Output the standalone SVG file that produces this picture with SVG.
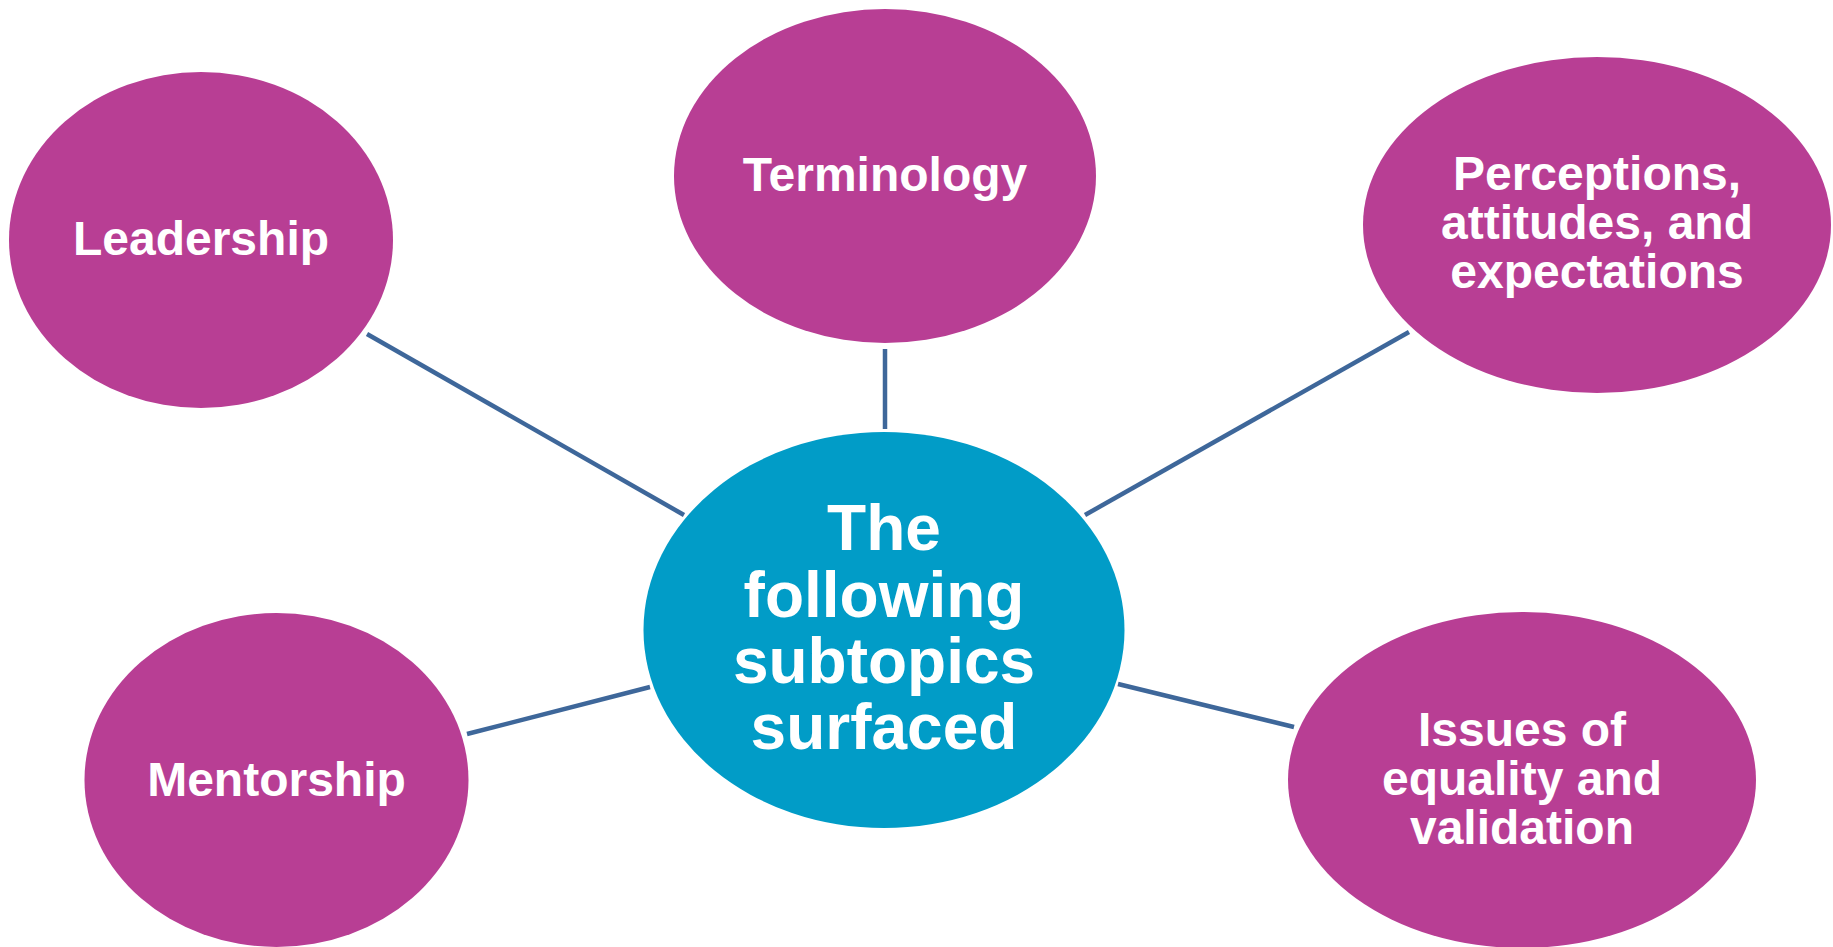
<svg xmlns="http://www.w3.org/2000/svg" width="1833" height="947" viewBox="0 0 1833 947">
<style>
.sub{fill:#B83E94}
.hub{fill:#019CC7}
.lbl{font-family:"Liberation Sans",Arial,sans-serif;font-weight:bold;fill:#FFFFFF;text-anchor:middle;font-size:48px}
.hl{font-size:64px}
.conn line{stroke:#3E679A;stroke-width:4.5}
</style>
<rect width="1833" height="947" fill="#FFFFFF"/>
<g id="connectors" class="conn">
<line x1="367" y1="334" x2="684" y2="515"/>
<line x1="885" y1="349" x2="885" y2="429"/>
<line x1="1409" y1="332" x2="1085" y2="515"/>
<line x1="467" y1="734" x2="650" y2="687"/>
<line x1="1118" y1="684" x2="1294" y2="727"/>
</g>
<g id="node-center">
<ellipse class="hub" cx="884" cy="630" rx="240.5" ry="198"/>
<text class="lbl hl" x="884" y="550">The</text>
<text class="lbl hl" x="884" y="617">following</text>
<text class="lbl hl" x="884" y="683">subtopics</text>
<text class="lbl hl" x="884" y="749">surfaced</text>
</g>
<g id="node-leadership">
<ellipse class="sub" cx="201" cy="240" rx="192" ry="168"/>
<text class="lbl" x="201" y="255">Leadership</text>
</g>
<g id="node-terminology">
<ellipse class="sub" cx="885" cy="176" rx="211" ry="167"/>
<text class="lbl" x="885" y="191">Terminology</text>
</g>
<g id="node-perceptions">
<ellipse class="sub" cx="1597" cy="225" rx="234" ry="168"/>
<text class="lbl" x="1597" y="190">Perceptions,</text>
<text class="lbl" x="1597" y="239">attitudes, and</text>
<text class="lbl" x="1597" y="288">expectations</text>
</g>
<g id="node-mentorship">
<ellipse class="sub" cx="276.5" cy="780" rx="192" ry="167"/>
<text class="lbl" x="276.5" y="796">Mentorship</text>
</g>
<g id="node-issues">
<ellipse class="sub" cx="1522" cy="780" rx="234" ry="168"/>
<text class="lbl" x="1522" y="746">Issues of</text>
<text class="lbl" x="1522" y="795">equality and</text>
<text class="lbl" x="1522" y="844">validation</text>
</g>
</svg>
